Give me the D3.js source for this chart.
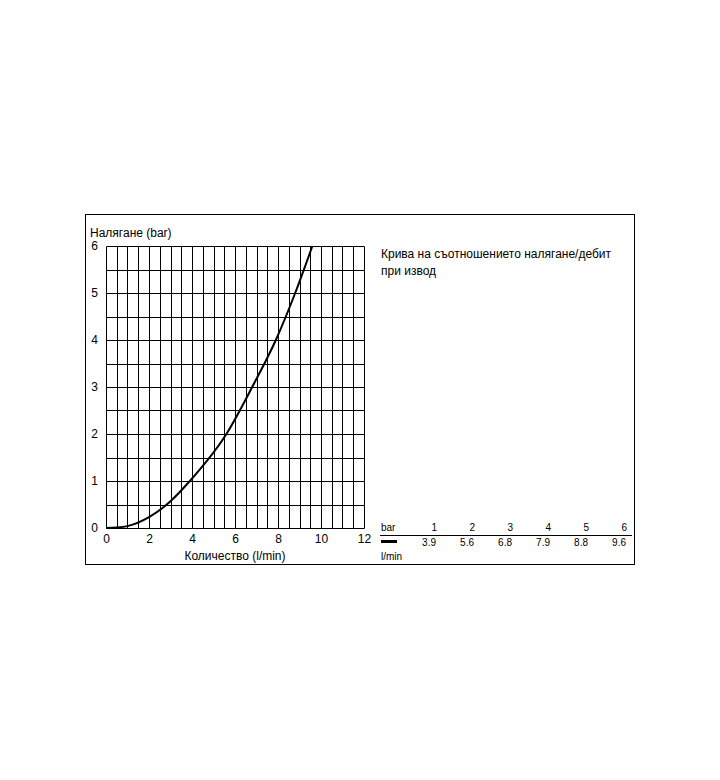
<!DOCTYPE html>
<html><head><meta charset="utf-8">
<script src="https://cdn.jsdelivr.net/npm/d3@7"></script>
<style>body{margin:0;background:#fff;}svg{display:block;font-family:"Liberation Sans",Arial,sans-serif;}</style>
</head><body>
<script>
// Data
const flow = [0, 0.5, 1, 2, 3, 3.9, 5.6, 6.8, 7.9, 8.8, 9.6];
const pressure = [0, 0.01, 0.04, 0.23, 0.57, 1, 2, 3, 4, 5, 6];
const xTicks = [0, 2, 4, 6, 8, 10, 12];
const yTicks = [0, 1, 2, 3, 4, 5, 6];
const tableBar = ["1", "2", "3", "4", "5", "6"];
const tableFlow = ["3.9", "5.6", "6.8", "7.9", "8.8", "9.6"];
const yTitle = "Налягане (bar)";
const xTitle = "Количество (l/min)";
const noteLines = ["Крива на съотношението налягане/дебит", "при извод"];

const W = 720, H = 780;
const svg = d3.select("body").append("svg").attr("width", W).attr("height", H);

// outer box
svg.append("rect").attr("x", 85.5).attr("y", 214.5).attr("width", 549).attr("height", 350)
  .attr("fill", "#fff").attr("stroke", "#000").attr("stroke-width", 1);

const x = d3.scaleLinear().domain([0, 12]).range([106, 364]);
const y = d3.scaleLinear().domain([0, 6]).range([528, 246]);

const g = svg.append("g");
const gridX = d3.range(0, 12.01, 0.5);
const gridY = d3.range(0, 6.01, 0.5);
g.selectAll("line.vx").data(gridX).enter().append("line")
  .attr("x1", d => Math.round(x(d)) + 0.5).attr("x2", d => Math.round(x(d)) + 0.5)
  .attr("y1", y(0) + 0.5).attr("y2", y(6) + 0.5)
  .attr("stroke", "#000").attr("stroke-width", 1);
g.selectAll("line.hy").data(gridY).enter().append("line")
  .attr("y1", d => Math.round(y(d)) + 0.5).attr("y2", d => Math.round(y(d)) + 0.5)
  .attr("x1", x(0) + 0.5).attr("x2", Math.round(x(12)) + 0.5)
  .attr("stroke", "#000").attr("stroke-width", 1);

// axes labels via d3 axes (tick lines hidden)
const xAxis = svg.append("g").attr("transform", `translate(0,${y(0)})`)
  .call(d3.axisBottom(x).tickValues(xTicks).tickFormat(d3.format("d")).tickSize(0).tickPadding(6));
const yAxis = svg.append("g").attr("transform", `translate(${x(0)},0)`)
  .call(d3.axisLeft(y).tickValues(yTicks).tickFormat(d3.format("d")).tickSize(0).tickPadding(8));
[xAxis, yAxis].forEach(a => {
  a.select(".domain").remove();
  a.selectAll("text").attr("font-size", 12).attr("fill", "#000")
    .attr("font-family", '"Liberation Sans",Arial,sans-serif');
});

svg.append("text").attr("x", 90).attr("y", 237).attr("font-size", 12).text(yTitle);
svg.append("text").attr("x", 235).attr("y", 560).attr("font-size", 12)
  .attr("text-anchor", "middle").text(xTitle);

// curve
const pts = flow.map((f, i) => [f, pressure[i]]);
svg.append("path").datum(pts)
  .attr("d", d3.line().x(d => x(d[0])).y(d => y(d[1])).curve(d3.curveMonotoneX))
  .attr("fill", "none").attr("stroke", "#000").attr("stroke-width", 2);

// note
svg.selectAll("text.note").data(noteLines).enter().append("text")
  .attr("x", 381).attr("y", (d, i) => 258 + i * 17).attr("font-size", 12).text(d => d);

// table
const tx = d3.scalePoint().domain(tableBar).range([437, 627]);
svg.append("text").attr("x", 381).attr("y", 531).attr("font-size", 10).text("bar");
svg.selectAll("text.hb").data(tableBar).enter().append("text")
  .attr("x", d => tx(d)).attr("y", 531).attr("font-size", 10).attr("text-anchor", "end").text(d => d);
svg.append("line").attr("x1", 380).attr("x2", 632).attr("y1", 535.5).attr("y2", 535.5)
  .attr("stroke", "#000").attr("stroke-width", 1);
svg.append("line").attr("x1", 381).attr("x2", 397).attr("y1", 541.5).attr("y2", 541.5)
  .attr("stroke", "#000").attr("stroke-width", 3);
svg.selectAll("text.vf").data(tableFlow).enter().append("text")
  .attr("x", (d, i) => tx(tableBar[i]) - 1).attr("y", 546).attr("font-size", 10)
  .attr("text-anchor", "end").text(d => d);
svg.append("text").attr("x", 381).attr("y", 560).attr("font-size", 10).text("l/min");
</script>
</body></html>
